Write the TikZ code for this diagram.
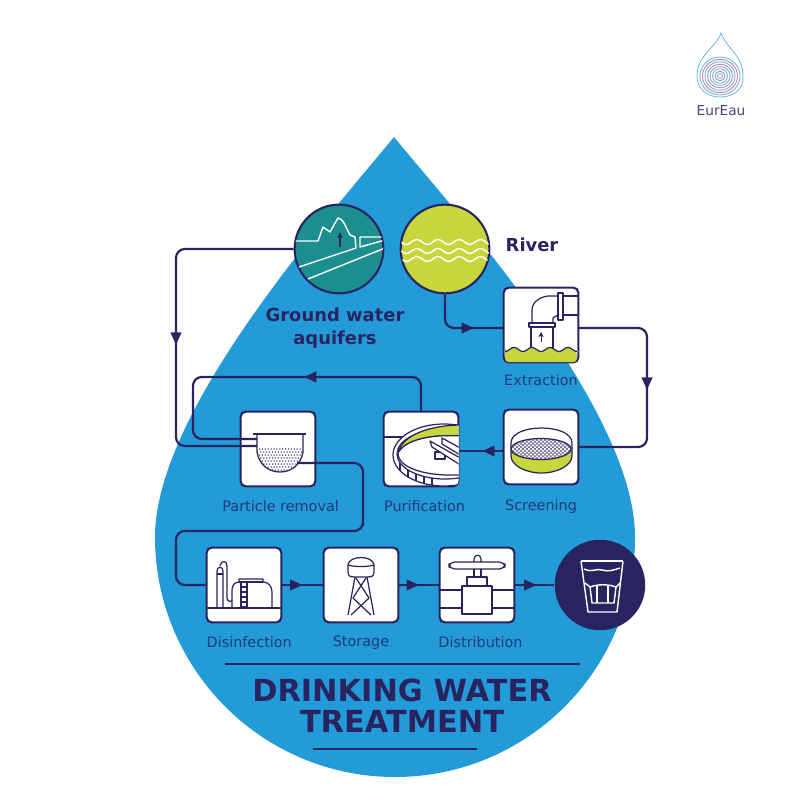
\documentclass[tikz,border=0pt]{standalone}
\usepackage{fontspec}
\setmainfont{DejaVu Sans}
\usetikzlibrary{arrows.meta,positioning,decorations.markings}
\definecolor{dropBlue}{HTML}{229BD8}
\definecolor{inkNavy}{HTML}{29245F}
\definecolor{labelBlue}{HTML}{1F3B78}
\definecolor{limeFill}{HTML}{C6D63C}
\definecolor{tealFill}{HTML}{1B8F8E}
\definecolor{logoBlue}{HTML}{6DB6D9}
\definecolor{logoPink}{HTML}{C07FB5}
\tikzset{
  procbox/.style={rounded corners=3pt, draw=inkNavy, fill=white, line width=1.2pt,
                  minimum size=42.6pt, inner sep=0pt},
  proclabel/.style={font=\fontsize{8.2}{10}\selectfont, text=labelBlue, inner sep=0pt},
  headlabel/.style={font=\fontsize{10.2}{12.6}\selectfont\bfseries, text=inkNavy, align=center, inner sep=0pt},
  titlelabel/.style={font=\fontsize{17.3}{17.7}\selectfont\bfseries, text=inkNavy, align=center, inner sep=0pt},
  disc/.style={circle, draw=inkNavy, line width=1.2pt, minimum size=50.5pt, inner sep=0pt},
  flow/.style={draw=inkNavy, line width=1.25pt, rounded corners=5pt},
  flowtip/.style={postaction={decorate, decoration={markings,
                  mark=at position #1 with {\arrow[inkNavy]{Triangle[length=7pt,width=6pt]}}}}},
  icon/.style={draw=inkNavy, line width=0.7pt, line join=round},
  whiteline/.style={draw=white, line width=0.8pt, line join=round},
}
\begin{document}
\begin{tikzpicture}[x=0.02cm,y=-0.02cm]
  \useasboundingbox (0,0) rectangle (800,800);
  % drop
  \fill[dropBlue] (394,137) .. controls (330,215) and (155,410) .. (155,537)
    .. controls (155,669.5) and (262.5,777) .. (395,777)
    .. controls (527.5,777) and (635,669.5) .. (635,537)
    .. controls (635,410) and (458,215) .. (394,137) -- cycle;

  % logo
  \draw[logoBlue, line width=0.45pt] (721,33) .. controls (716,48) and (697,55) .. (697,76)
    .. controls (697,90) and (708,97) .. (720,97) .. controls (733,97) and (744,90) .. (743,76)
    .. controls (743,55) and (726,48) .. (721,33) -- cycle;
  \foreach \r/\c in {20/logoBlue,17.5/logoPink,15/logoBlue,12.5/logoPink,10/logoBlue,7.5/logoBlue,5/logoPink,2.5/logoBlue}
    \draw[\c, line width=0.5pt] (720,76) ellipse ({\r} and {\r*0.95});
  \node[font=\fontsize{7.8}{10}\selectfont, text=inkNavy!85, inner sep=0pt] (logotext) at (721,111) {EurEau};

  % process boxes
  \node[disc, fill=tealFill] (ground) at (339,249) {};
  \node[disc, fill=limeFill] (river) at (445,249) {};
  \node[procbox] (extraction) at (541,325) {};
  \node[procbox] (screening) at (541,447) {};
  \node[procbox] (purification) at (421,449) {};
  \node[procbox] (particle) at (278,449) {};
  \node[procbox] (disinfection) at (244,585) {};
  \node[procbox] (storage) at (361,585) {};
  \node[procbox] (distribution) at (477,585) {};
  \node[disc, fill=inkNavy, draw=none, minimum size=51.5pt] (glass) at (600,585) {};

  % labels
  \node[headlabel] (riverlabel) at (532,245) {River};
  \node[headlabel] (groundlabel) at (335,328) {Ground water\\aquifers};
  \node[proclabel, below=6pt of extraction.south] (extractionlabel) {Extraction};
  \node[proclabel, below=8pt of screening.south] (screeninglabel) {Screening};
  \node[proclabel, below=7pt of purification.south, xshift=2pt] (purificationlabel) {Purification};
  \node[proclabel, below=7pt of particle.south, xshift=1.5pt] (particlelabel) {Particle removal};
  \node[proclabel, below=7pt of disinfection.south, xshift=3pt] (disinfectionlabel) {Disinfection};
  \node[proclabel, below=7pt of storage.south] (storagelabel) {Storage};
  \node[proclabel, below=7pt of distribution.south, xshift=2pt] (distributionlabel) {Distribution};

  % title
  \node[titlelabel] (title) at (402,706) {DRINKING WATER\\TREATMENT};
  \coordinate (ruleAl) at (225,664); \coordinate (ruleAr) at (580,664);
  \coordinate (ruleBl) at (313,749); \coordinate (ruleBr) at (477,749);
  \draw[inkNavy, line width=1.1pt] (ruleAl) -- (ruleAr);
  \draw[inkNavy, line width=1.1pt] (ruleBl) -- (ruleBr);

  % connector ends
  \coordinate (bowlhigh) at (257,439);
  \coordinate (bowllow) at (257,446);
  \coordinate (bowlout) at (297,463);
  \coordinate (busleft) at (176,446);
  \coordinate (businner) at (193,377);
  \coordinate (busmidr) at (363,531);
  \coordinate (busmidl) at (176,531);
  \coordinate (busright) at (647,447);
  \coordinate (extractin) at (503,328);
  \coordinate (extractout) at (579,328);
  \coordinate (purifyin) at (459,451);
  \coordinate (screenout) at (503,451);

  \draw[flow, flowtip=0.54] (ground.west) -| (busleft) -- (bowllow);
  \draw[flow, flowtip=0.39] (purification.north) |- (businner) |- (bowlhigh);
  \draw[flow] (bowlout) -| (busmidr) |- (busmidl) |- (disinfection.west);
  \draw[flow, flowtip=0.67] (river.south) |- (extractin);
  \draw[flow, flowtip=0.51] (extractout) -| (busright) -- (screening.east);
  \draw[flow, flowtip=0.47] (screenout) -- (purifyin);
  \draw[flow, flowtip=0.5] (disinfection.east) -- (storage.west);
  \draw[flow, flowtip=0.5] (storage.east) -- (distribution.west);
  \draw[flow, flowtip=0.55] (distribution.east) -- (glass.west);

  % ground water icon
  \begin{scope}
    \clip (339,249) circle (44);
    \draw[whiteline] (290,241) -- (318,241) -- (323,227) -- (330,232) -- (338,218)
      .. controls (343,218) and (346,228) .. (350,235) -- (355,237) -- (356,248) -- (299,267);
    \draw[whiteline] (385,237) -- (360,237) -- (360,247) -- (385,240);
    \draw[whiteline] (308,279) -- (385,248);
  \end{scope}
  \draw[inkNavy, line width=0.6pt, -{Stealth[length=3.5pt,width=3pt]}] (340,247) -- (340,232);

  % river icon
  \begin{scope}
    \clip (445,249) circle (44);
    \foreach \y in {242,251,259}
      \draw[whiteline] plot[domain=401:489,samples=90,smooth] (\x,{\y+2.4*sin((\x-401)*17)});
  \end{scope}

  % extraction icon
  \fill[limeFill, rounded corners=2pt] (505,362) -- (505,349)
    -- plot[domain=505:577,samples=50] (\x,{349.5+2*cos((\x-505)*20)}) -- (577,362) -- cycle;
  \draw[icon] plot[domain=505:577,samples=50] (\x,{349.5+2*cos((\x-505)*20)});
  \draw[icon] (532,322) -- (532,310) .. controls (532,302) and (540,297) .. (548,296) -- (558,296);
  \draw[icon] (553,322) -- (553,318) -- (558,315);
  \draw[icon] (558,293) rectangle (563,320);
  \draw[icon] (563,296) -- (579,296) (563,315) -- (579,315);
  \draw[icon] (529,323) rectangle (555,327);
  \draw[icon] (531,327) -- (531,348) (553,327) -- (553,348);
  \draw[inkNavy, line width=0.5pt, -{Stealth[length=3pt,width=3pt]}] (541,342) -- (541,332);

  % screening icon
  \fill[limeFill] (511,447) -- (511,456) .. controls (511,465) and (525,473) .. (541.5,473)
    .. controls (558,473) and (572,465) .. (572,456) -- (572,447) -- cycle;
  \draw[icon] (511,456) -- (511,443) .. controls (511,423) and (572,423) .. (572,443) -- (572,456)
    .. controls (572,465) and (558,473) .. (541.5,473) .. controls (525,473) and (511,465) .. (511,456);
  \begin{scope}
    \clip (541,449) ellipse (30 and 10.5);
    \fill[white] (511,438) rectangle (572,460);
    \foreach \k in {-50,-46,...,50} {
      \draw[inkNavy!75, line width=0.3pt] (541+\k-12,438) -- (541+\k+12,460);
      \draw[inkNavy!75, line width=0.3pt] (541+\k+12,438) -- (541+\k-12,460);
    }
  \end{scope}
  \draw[icon] (541,449) ellipse (30 and 10.5);

  % purification icon
  \begin{scope}
    \clip[rounded corners=3pt] (383.5,411.5) rectangle (458.5,486.5);
    \draw[icon] (383,437) -- (403,437);
    \draw[icon, fill=white] (444,455) ellipse (51 and 31);
    \draw[icon] (445,454) ellipse (48 and 25);
    \draw[icon, fill=limeFill] (398,453) .. controls (402,435) and (430,425) .. (462,425)
      -- (462,436) .. controls (430,434) and (405,440) .. (398,453) -- cycle;
    \draw[icon, fill=white] (398,453) .. controls (398,468) and (425,475) .. (449,475) -- (462,475) -- (462,436)
      .. controls (430,434) and (405,440) .. (398,453) -- cycle;
    \foreach \a in {400,408,416,424,432}
      \draw[icon] (\a,{454+25*sqrt(1-((\a-445)/48)^2)}) -- (\a,{455+31*sqrt(1-((\a-444)/51)^2)});
    \draw[icon, fill=white] (435,452) -- (445,452) -- (445,459) -- (435,459) -- cycle;
    \draw[icon, fill=white] (430,441) -- (432,447) -- (462,466) -- (462,459) -- cycle;
    \draw[icon, fill=white] (442,438) -- (442,444) -- (462,456) -- (462,449) -- cycle;
  \end{scope}

  % particle removal icon
  \begin{scope}
    \clip (257,434) -- (257,452) .. controls (259,464) and (268,472) .. (280,472)
      .. controls (292,472) and (301,464) .. (303,452) -- (303,434) -- cycle;
    \foreach \i in {0,...,7} \foreach \j in {0,...,14}
      \fill[inkNavy] ({259.5+\j*2.9+mod(\i,2)*1.45},{449+\i*3}) circle (0.75);
  \end{scope}
  \draw[icon, fill=none] (257,434) -- (257,452) .. controls (259,464) and (268,472) .. (280,472)
    .. controls (292,472) and (301,464) .. (303,452) -- (303,434);
  \draw[icon] (253,434) -- (306,434);

  % disinfection icon
  \draw[icon] (207,608) -- (282,608);
  \draw[icon] (217,608) -- (217,571) .. controls (217,566) and (223,566) .. (223,571) -- (223,608);
  \draw[icon] (217,574) -- (223,574);
  \draw[icon] (220,566) .. controls (221,560) and (227,560) .. (227,566) -- (227,598)
    .. controls (227,602) and (232,602) .. (232,600);
  \draw[icon] (232,608) -- (232,590) .. controls (232,584) and (236,582) .. (239,582)
    -- (239,579) -- (263,579) -- (263,582) .. controls (268,582) and (272,586) .. (272,592) -- (272,608);
  \draw[icon] (239,582) -- (263,582);
  \draw[icon] (241,583) -- (241,608) (247,583) -- (247,608);
  \foreach \y in {587,592,...,607}
    \draw[icon] (241,\y) -- (247,\y);

  % storage icon
  \draw[icon] (348,565) .. controls (349,555) and (373,555) .. (374,565) -- (374,572)
    .. controls (374,577) and (370,577) .. (368,577) -- (354,577) .. controls (352,577) and (348,577) .. (348,572) -- cycle;
  \draw[icon] (348,565) .. controls (354,567) and (368,567) .. (374,565);
  \draw[icon] (355,577) -- (348,615) (367,577) -- (374,615);
  \draw[icon] (356,578) -- (369,598) -- (351,615) (366,578) -- (353,598) -- (371,615);

  % distribution icon
  \draw[icon] (440,590) -- (462,590) (492,590) -- (515,590);
  \draw[icon] (440,608) -- (462,608) (492,608) -- (515,608);
  \draw[icon] (462,586) rectangle (492,614);
  \draw[icon] (467,586) -- (467,577) -- (487,577) -- (487,586);
  \draw[icon] (474,577) -- (474,569) (481,577) -- (481,569);
  \draw[icon] (474,562) -- (474,559) .. controls (474,554) and (481,554) .. (481,559) -- (481,562);
  \draw[icon, rounded corners=3pt] (449,562) rectangle (505,569);

  % glass icon
  \draw[whiteline] (581,561) -- (623,561);
  \draw[whiteline] (581,561) -- (588,612) -- (617,612) -- (623,561);
  \draw[whiteline] (584,569) .. controls (592,573) and (596,568) .. (602,570)
    .. controls (608,572) and (614,570) .. (620,568);
  \draw[whiteline] (585,583) -- (590,587) -- (592,603) -- (614,603) -- (616,587) -- (620,583);
  \draw[whiteline] (590,587) .. controls (598,584) and (608,584) .. (616,587);
  \draw[whiteline] (597,586) -- (597,603) (608,586) -- (608,603);
\end{tikzpicture}
\end{document}
